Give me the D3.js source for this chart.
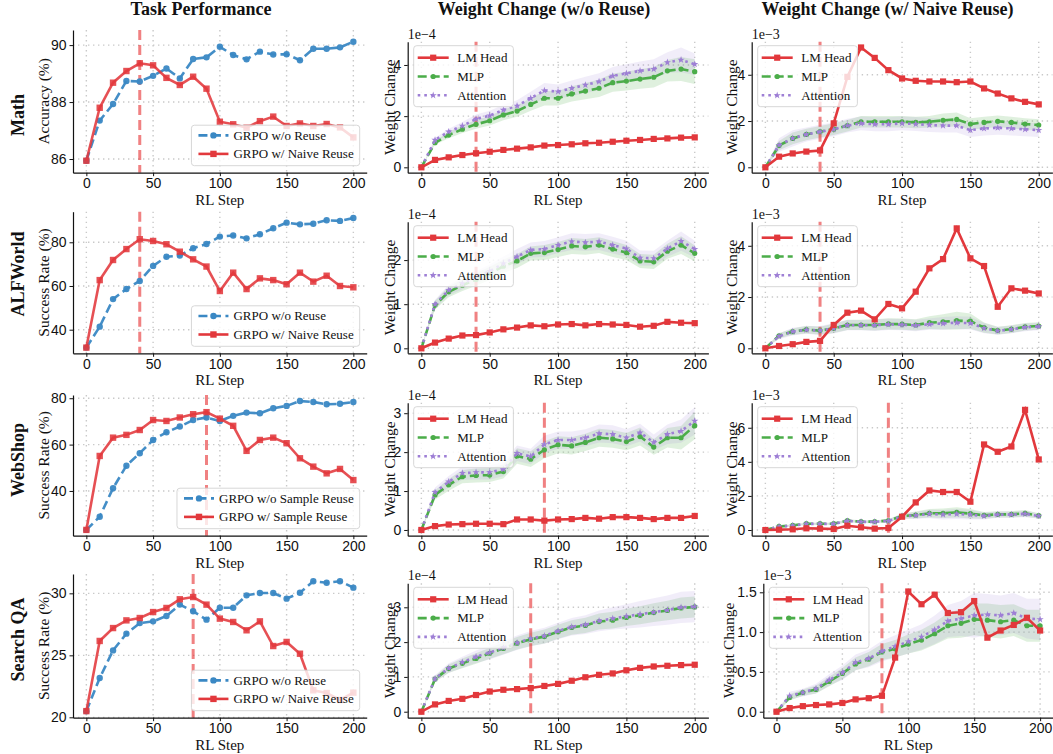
<!DOCTYPE html>
<html>
<head>
<meta charset="utf-8">
<script src="https://cdn.jsdelivr.net/npm/d3@7"></script>
<style>
  body { margin: 0; background: #fff; }
  svg { font-family: "Liberation Serif", "Times New Roman", serif; }
  .tick text { font-size: 14px; fill: #111; }
  .grid { stroke: #c9c9c9; stroke-width: 1.4; stroke-dasharray: 1.4,3.6; }
</style>
</head>
<body>
<svg id="chart" width="1053" height="754"></svg>
<script>
// ---- data ----
const steps = [0, 10, 20, 30, 40, 50, 60, 70, 80, 90, 100, 110, 120, 130, 140, 150, 160, 170, 180, 190, 200];
const xTicks = [0, 50, 100, 150, 200];

const colTitles = ['Task Performance', 'Weight Change (w/o Reuse)', 'Weight Change (w/ Naive Reuse)'];
const rowNames = ['Math', 'ALFWorld', 'WebShop', 'Search QA'];
const perfLabels = ['Accuracy (%)', 'Success Rate (%)', 'Success Rate (%)', 'Success Rate (%)'];
const baseNames = ['GRPO w/o Reuse', 'GRPO w/o Reuse', 'GRPO w/o Sample Reuse', 'GRPO w/o Reuse'];
const reuseNames = ['GRPO w/ Naive Reuse', 'GRPO w/ Naive Reuse', 'GRPO w/ Sample Reuse', 'GRPO w/ Naive Reuse'];
const reuseStart = [40, 40, 90, 80];

// task performance
const mathWithout = [85.94, 87.35, 87.93, 88.74, 88.72, 88.92, 89.18, 88.83, 89.51, 89.57, 89.94, 89.65, 89.50, 89.77, 89.67, 89.68, 89.47, 89.87, 89.87, 89.92, 90.12];
const mathNaive = [85.94, 87.80, 88.68, 89.09, 89.36, 89.29, 88.85, 88.60, 88.89, 88.47, 87.31, 87.22, 87.10, 87.33, 87.49, 87.16, 87.25, 87.16, 87.23, 87.11, 86.76];
const alfWithout = [31.8, 41.4, 54.0, 58.6, 62.3, 69.2, 73.4, 73.9, 77.3, 79.2, 82.6, 83.1, 81.8, 83.7, 86.4, 89.0, 88.2, 88.5, 90.1, 89.8, 91.1];
const alfNaive = [31.8, 62.7, 71.9, 76.9, 81.4, 80.6, 79.1, 75.7, 72.2, 68.9, 57.7, 66.1, 58.6, 63.5, 62.7, 60.8, 66.1, 62.0, 64.7, 60.0, 59.4];
const webWithout = [23.2, 28.9, 41.2, 50.9, 56.3, 62.0, 65.3, 67.8, 70.6, 71.7, 70.2, 72.4, 73.8, 73.5, 75.7, 76.7, 78.8, 78.4, 77.4, 77.6, 78.4];
const webSample = [23.2, 55.1, 63.0, 64.2, 66.3, 70.6, 70.2, 71.7, 73.1, 74.0, 71.2, 68.1, 57.3, 62.0, 63.0, 60.6, 54.1, 50.5, 47.6, 49.5, 44.7];
const searchWithout = [20.5, 23.17, 25.40, 26.75, 27.6, 27.74, 28.17, 29.09, 28.55, 27.88, 28.84, 28.84, 29.84, 30.03, 30.03, 29.57, 30.05, 30.97, 30.86, 30.97, 30.46];
const searchNaive = [20.5, 26.16, 27.2, 27.82, 28.01, 28.49, 28.82, 29.52, 29.70, 29.09, 27.96, 27.69, 27.02, 27.74, 25.75, 26.08, 25.13, 22.18, 21.96, 21.4, 21.99];

// weight change, w/o reuse (x1e-4)
const mathPlainLm = [0, 0.29, 0.39, 0.48, 0.55, 0.61, 0.68, 0.73, 0.78, 0.85, 0.87, 0.90, 0.94, 0.96, 1.00, 1.04, 1.07, 1.11, 1.13, 1.16, 1.17];
const mathPlainMlp = [0, 0.96, 1.26, 1.49, 1.68, 1.82, 2.05, 2.20, 2.46, 2.70, 2.70, 2.87, 2.98, 3.09, 3.31, 3.37, 3.45, 3.52, 3.77, 3.84, 3.74];
const mathPlainAttn = [0, 1.07, 1.39, 1.62, 1.89, 2.02, 2.24, 2.40, 2.70, 3.00, 2.96, 3.09, 3.22, 3.35, 3.57, 3.67, 3.77, 3.84, 4.10, 4.20, 4.03];
const mathPlainMlpStd = [0, 0.08, 0.12, 0.15, 0.17, 0.19, 0.21, 0.22, 0.25, 0.28, 0.28, 0.30, 0.32, 0.34, 0.36, 0.37, 0.38, 0.40, 0.42, 0.47, 0.48];
const mathPlainAttnStd = [0, 0.08, 0.12, 0.15, 0.17, 0.19, 0.21, 0.22, 0.25, 0.30, 0.28, 0.30, 0.32, 0.33, 0.35, 0.36, 0.37, 0.38, 0.40, 0.48, 0.42];

const alfPlainLm = [0, 0.13, 0.22, 0.29, 0.30, 0.36, 0.43, 0.47, 0.52, 0.50, 0.54, 0.55, 0.52, 0.55, 0.54, 0.53, 0.49, 0.51, 0.60, 0.58, 0.57];
const alfPlainMlp = [0, 0.98, 1.28, 1.43, 1.56, 1.70, 1.86, 1.98, 2.15, 2.17, 2.24, 2.32, 2.30, 2.34, 2.25, 2.17, 1.98, 1.96, 2.20, 2.34, 2.15];
const alfPlainAttn = [0, 1.00, 1.32, 1.47, 1.61, 1.75, 1.92, 2.08, 2.23, 2.25, 2.34, 2.42, 2.40, 2.42, 2.34, 2.26, 2.05, 2.04, 2.26, 2.43, 2.25];
const alfPlainMlpStd = [0, 0.10, 0.12, 0.13, 0.14, 0.15, 0.15, 0.16, 0.16, 0.17, 0.17, 0.18, 0.18, 0.18, 0.18, 0.17, 0.16, 0.16, 0.17, 0.20, 0.18];
const alfPlainAttnStd = [0, 0.10, 0.12, 0.13, 0.14, 0.15, 0.16, 0.17, 0.17, 0.18, 0.18, 0.19, 0.19, 0.19, 0.19, 0.18, 0.17, 0.17, 0.18, 0.22, 0.19];

const webPlainLm = [0, 0.10, 0.14, 0.15, 0.16, 0.16, 0.15, 0.27, 0.27, 0.24, 0.27, 0.28, 0.31, 0.29, 0.33, 0.33, 0.31, 0.28, 0.31, 0.31, 0.36];
const webPlainMlp = [0, 0.90, 1.16, 1.37, 1.40, 1.41, 1.50, 1.90, 1.82, 2.06, 2.19, 2.16, 2.25, 2.37, 2.34, 2.27, 2.40, 2.13, 2.37, 2.37, 2.68];
const webPlainAttn = [0, 0.97, 1.24, 1.46, 1.48, 1.48, 1.56, 1.97, 1.89, 2.20, 2.31, 2.31, 2.37, 2.48, 2.46, 2.37, 2.50, 2.25, 2.46, 2.54, 2.80];
const webPlainMlpStd = [0, 0.12, 0.15, 0.17, 0.18, 0.18, 0.18, 0.20, 0.20, 0.22, 0.22, 0.22, 0.22, 0.23, 0.23, 0.22, 0.23, 0.20, 0.25, 0.30, 0.35];
const webPlainAttnStd = [0, 0.12, 0.15, 0.17, 0.18, 0.18, 0.18, 0.20, 0.20, 0.22, 0.22, 0.22, 0.22, 0.23, 0.23, 0.22, 0.23, 0.20, 0.25, 0.30, 0.35];

const searchPlainLm = [0, 0.21, 0.31, 0.37, 0.48, 0.58, 0.63, 0.65, 0.68, 0.74, 0.80, 0.89, 0.99, 1.06, 1.10, 1.19, 1.26, 1.30, 1.32, 1.34, 1.35];
const searchPlainMlp = [0, 0.94, 1.24, 1.39, 1.53, 1.68, 1.82, 1.97, 2.08, 2.16, 2.30, 2.42, 2.48, 2.59, 2.63, 2.71, 2.77, 2.85, 2.91, 2.98, 3.01];
const searchPlainAttn = [0, 0.95, 1.25, 1.42, 1.58, 1.70, 1.84, 1.98, 2.10, 2.18, 2.32, 2.44, 2.50, 2.61, 2.68, 2.74, 2.80, 2.86, 2.92, 3.00, 3.02];
const searchPlainMlpStd = [0, 0.08, 0.12, 0.14, 0.15, 0.16, 0.17, 0.18, 0.19, 0.20, 0.20, 0.21, 0.22, 0.23, 0.24, 0.25, 0.26, 0.27, 0.28, 0.30, 0.30];
const searchPlainAttnStd = [0, 0.10, 0.14, 0.16, 0.18, 0.20, 0.20, 0.21, 0.22, 0.23, 0.24, 0.25, 0.27, 0.30, 0.32, 0.35, 0.38, 0.40, 0.42, 0.45, 0.45];

// weight change, w/ naive reuse (x1e-3)
const mathReuseLm = [0, 0.46, 0.60, 0.68, 0.73, 1.90, 3.91, 5.18, 4.73, 4.20, 3.84, 3.74, 3.71, 3.71, 3.68, 3.71, 3.41, 3.19, 2.98, 2.83, 2.72];
const mathReuseMlp = [0, 0.94, 1.25, 1.42, 1.54, 1.65, 1.80, 1.97, 1.97, 1.97, 1.97, 1.94, 1.97, 2.03, 2.07, 1.87, 1.94, 1.99, 1.94, 1.87, 1.83];
const mathReuseAttn = [0, 0.96, 1.25, 1.42, 1.54, 1.64, 1.80, 1.90, 1.86, 1.86, 1.90, 1.87, 1.83, 1.80, 1.80, 1.61, 1.68, 1.71, 1.68, 1.64, 1.61];
const mathReuseMlpStd = [0, 0.20, 0.25, 0.25, 0.25, 0.25, 0.25, 0.25, 0.25, 0.25, 0.25, 0.25, 0.25, 0.30, 0.30, 0.25, 0.25, 0.25, 0.25, 0.25, 0.25];
const mathReuseAttnStd = [0, 0.30, 0.35, 0.30, 0.30, 0.30, 0.30, 0.30, 0.30, 0.30, 0.30, 0.30, 0.30, 0.30, 0.30, 0.30, 0.30, 0.30, 0.30, 0.30, 0.30];

const alfReuseLm = [0, 0.09, 0.16, 0.25, 0.29, 0.91, 1.39, 1.47, 1.13, 1.73, 1.56, 2.21, 3.12, 3.48, 4.68, 3.51, 3.21, 1.62, 2.34, 2.25, 2.14];
const alfReuseMlp = [0, 0.49, 0.65, 0.73, 0.69, 0.78, 0.91, 0.91, 0.91, 0.95, 0.94, 0.91, 1.00, 1.03, 1.08, 1.06, 0.81, 0.69, 0.75, 0.84, 0.87];
const alfReuseAttn = [0, 0.47, 0.65, 0.72, 0.69, 0.78, 0.90, 0.90, 0.90, 0.93, 0.92, 0.89, 0.94, 0.97, 1.00, 0.98, 0.79, 0.68, 0.74, 0.82, 0.85];
const alfReuseMlpStd = [0, 0.10, 0.12, 0.15, 0.15, 0.18, 0.20, 0.20, 0.22, 0.22, 0.22, 0.22, 0.25, 0.30, 0.35, 0.30, 0.20, 0.15, 0.15, 0.15, 0.15];
const alfReuseAttnStd = [0, 0.12, 0.15, 0.15, 0.18, 0.20, 0.20, 0.20, 0.22, 0.22, 0.22, 0.22, 0.22, 0.25, 0.25, 0.25, 0.20, 0.15, 0.15, 0.15, 0.15];

const webReuseLm = [0, 0.02, 0.04, 0.10, 0.08, 0.06, 0.25, 0.16, 0.08, 0.12, 0.78, 1.62, 2.32, 2.23, 2.23, 1.66, 5.02, 4.59, 4.90, 7.05, 4.14];
const webReuseMlp = [0, 0.21, 0.27, 0.37, 0.37, 0.37, 0.55, 0.49, 0.49, 0.55, 0.82, 0.88, 0.98, 0.98, 1.04, 0.96, 0.86, 0.92, 0.92, 0.98, 0.84];
const webReuseAttn = [0, 0.20, 0.26, 0.36, 0.36, 0.36, 0.53, 0.48, 0.48, 0.53, 0.80, 0.86, 0.94, 0.90, 0.94, 0.90, 0.82, 0.90, 0.90, 0.95, 0.82];
const webReuseMlpStd = [0, 0.05, 0.05, 0.06, 0.06, 0.06, 0.08, 0.08, 0.08, 0.08, 0.15, 0.20, 0.25, 0.28, 0.30, 0.28, 0.20, 0.18, 0.18, 0.20, 0.15];
const webReuseAttnStd = [0, 0.05, 0.05, 0.06, 0.06, 0.06, 0.08, 0.08, 0.08, 0.08, 0.15, 0.20, 0.25, 0.28, 0.30, 0.28, 0.20, 0.18, 0.18, 0.20, 0.15];

const searchReuseLm = [0, 0.046, 0.07, 0.084, 0.092, 0.11, 0.155, 0.17, 0.20, 0.68, 1.51, 1.35, 1.47, 1.24, 1.25, 1.39, 0.93, 1.02, 1.09, 1.18, 1.02];
const searchReuseMlp = [0, 0.18, 0.24, 0.28, 0.38, 0.48, 0.60, 0.66, 0.75, 0.79, 0.85, 0.90, 0.98, 1.08, 1.11, 1.16, 1.15, 1.13, 1.15, 1.08, 1.08];
const searchReuseAttn = [0, 0.20, 0.24, 0.29, 0.40, 0.49, 0.62, 0.67, 0.76, 0.82, 0.88, 0.94, 1.03, 1.14, 1.17, 1.21, 1.22, 1.21, 1.24, 1.17, 1.16];
const searchReuseMlpStd = [0, 0.04, 0.04, 0.05, 0.06, 0.07, 0.08, 0.09, 0.10, 0.11, 0.12, 0.13, 0.14, 0.16, 0.18, 0.20, 0.21, 0.21, 0.20, 0.20, 0.20];
const searchReuseAttnStd = [0, 0.05, 0.05, 0.06, 0.07, 0.09, 0.10, 0.11, 0.13, 0.14, 0.15, 0.16, 0.18, 0.20, 0.22, 0.28, 0.26, 0.25, 0.25, 0.25, 0.26];

// y ticks per panel
const perfTicks = [[86, 88, 90], [40, 60, 80], [40, 60, 80], [20, 25, 30]];
const plainTicks = [[0, 2, 4], [0, 1, 2], [0, 1, 2, 3], [0, 1, 2, 3]];
const reuseTicks = [[0, 2, 4], [0, 2, 4], [0, 2, 4, 6], [0, 0.5, 1.0, 1.5]];

// ---- styles ----
const C = {
  blue: '#3a88c4', red: '#e2383c', green: '#4bad49', purple: '#9e7fd5',
  vline: '#e41a1c'
};

// ---- layout (pixels) ----
const rowBox = [
  { bottom: 172.7, top1: 30, top: 41.7 },
  { bottom: 353.3, top1: 211.7, top: 221.7 },
  { bottom: 535.7, top1: 395, top: 402.7 },
  { bottom: 717.7, top1: 574, top: 583.3 }
];
const perfDomains = [[85.52, 90.53], [29.2, 94.0], [20.7, 81.4], [19.97, 31.56]];
const plainDomains = [[-0.21, 4.91], [-0.113, 2.87], [-0.147, 3.27], [-0.172, 3.69]];
const reuseDomains = [[-0.233, 5.43], [-0.195, 4.94], [-0.334, 7.47], [-0.075, 1.613]];
const rowLabelY = [115, 274, 460, 639.5];

const svg = d3.select('#chart');

function markerPath(kind, size) {
  if (kind === 'square') return d3.symbol(d3.symbolSquare, size * size)();
  if (kind === 'circle') return d3.symbol(d3.symbolCircle, Math.PI * size * size / 4)();
  return d3.symbol(d3.symbolStar, size * size * 0.6)();
}

function drawSeries(g, x, y, s) {
  const line = d3.line().x((d, i) => x(steps[i])).y(d => y(d));
  g.append('path')
    .datum(s.values)
    .attr('d', line)
    .attr('fill', 'none')
    .attr('stroke', s.color)
    .attr('stroke-width', 2.6)
    .attr('stroke-opacity', s.opacity || 1)
    .attr('stroke-dasharray', s.dash || null);
  g.append('g').selectAll('path')
    .data(s.values)
    .join('path')
    .attr('transform', (d, i) => `translate(${x(steps[i])},${y(d)})`)
    .attr('d', markerPath(s.marker, s.msize))
    .attr('fill', s.color)
    .attr('fill-opacity', s.opacity || 1);
}

function drawLegend(g, items, opt) {
  const lg = g.append('g');
  const box = lg.append('rect')
    .attr('rx', 3)
    .attr('fill', '#fff').attr('fill-opacity', 0.8)
    .attr('stroke', '#d3d3d3').attr('stroke-width', 0.9);
  let maxW = 0;
  items.forEach((s, i) => {
    const cy = opt.first + i * opt.step;
    const hx = opt.padL;
    lg.append('line')
      .attr('x1', hx).attr('x2', hx + opt.hlen).attr('y1', cy).attr('y2', cy)
      .attr('stroke', s.color).attr('stroke-width', 2.6)
      .attr('stroke-dasharray', s.dash || null);
    lg.append('path')
      .attr('transform', `translate(${hx + opt.hlen / 2},${cy})`)
      .attr('d', markerPath(s.marker, s.msize))
      .attr('fill', s.color);
    const t = lg.append('text')
      .attr('x', hx + opt.hlen + opt.gap).attr('y', cy)
      .attr('dy', '0.33em')
      .style('font-size', '13px')
      .attr('fill', '#111')
      .text(s.label);
    maxW = Math.max(maxW, t.node().getComputedTextLength());
  });
  const w = opt.padL + opt.hlen + opt.gap + maxW + 6;
  box.attr('x', 0).attr('y', 0).attr('width', w).attr('height', opt.height);
  const lx = opt.anchor === 'lr' ? opt.right - 7 - w : opt.left + 6;
  const ly = opt.anchor === 'lr' ? opt.bottom - 7 - opt.height : opt.top + 4;
  lg.attr('transform', `translate(${lx},${ly})`);
}

function drawPanel(p) {
  const g = svg.append('g');
  const x = d3.scaleLinear().domain([-10, 210]).range([p.left, p.right]);
  const y = d3.scaleLinear().domain(p.yDomain).range([p.bottom, p.top]);

  // grid
  g.append('g').selectAll('line')
    .data(xTicks)
    .join('line')
    .attr('class', 'grid')
    .attr('x1', d => x(d)).attr('x2', d => x(d))
    .attr('y1', p.top).attr('y2', p.bottom);
  g.append('g').selectAll('line')
    .data(p.yTicks)
    .join('line')
    .attr('class', 'grid')
    .attr('x1', p.left).attr('x2', p.right)
    .attr('y1', d => y(d)).attr('y2', d => y(d));

  // bands
  (p.bands || []).forEach(b => {
    const area = d3.area()
      .x((d, i) => x(steps[i]))
      .y0((d, i) => y(d - b.std[i]))
      .y1((d, i) => y(d + b.std[i]));
    g.append('path')
      .datum(b.values)
      .attr('d', area)
      .attr('fill', b.color)
      .attr('fill-opacity', b.opacity);
  });

  // reuse start marker
  g.append('line')
    .attr('x1', x(p.vline)).attr('x2', x(p.vline))
    .attr('y1', p.top).attr('y2', p.bottom)
    .attr('stroke', C.vline).attr('stroke-opacity', 0.55)
    .attr('stroke-width', 3).attr('stroke-dasharray', '10,5');

  p.series.forEach(s => drawSeries(g, x, y, s));

  // axes
  const xAxis = d3.axisBottom(x).tickValues(xTicks).tickSize(3.5).tickSizeOuter(0).tickPadding(2);
  const yAxis = d3.axisLeft(y).tickValues(p.yTicks).tickSize(3.5).tickSizeOuter(0).tickPadding(3)
    .tickFormat(p.yFormat || d3.format('d'));
  g.append('g').attr('transform', `translate(0,${p.bottom})`).call(xAxis)
    .call(a => a.select('.domain').attr('stroke', '#111').attr('stroke-width', 1.2))
    .call(a => a.selectAll('.tick line').attr('stroke', '#111'));
  g.append('g').attr('transform', `translate(${p.left},0)`).call(yAxis)
    .call(a => a.select('.domain').attr('stroke', '#111').attr('stroke-width', 1.2))
    .call(a => a.selectAll('.tick line').attr('stroke', '#111'));
  g.selectAll('.tick text').attr('font-family', null).attr('font-size', null);

  // labels
  g.append('text')
    .attr('x', (p.left + p.right) / 2).attr('y', p.bottom + 32)
    .attr('text-anchor', 'middle')
    .style('font-size', '15px').attr('fill', '#111')
    .text('RL Step');
  g.append('text')
    .attr('transform', `translate(${p.ylabelX},${(p.top + p.bottom) / 2}) rotate(-90)`)
    .attr('text-anchor', 'middle').attr('dy', '0.35em')
    .style('font-size', '15.5px').attr('fill', '#111')
    .text(p.ylabel);
  if (p.offset) {
    g.append('text')
      .attr('x', p.left).attr('y', p.top - 3)
      .style('font-size', '14px').attr('fill', '#111')
      .text(p.offset);
  }

  drawLegend(g, p.legend, Object.assign({}, p.legendOpt, {
    left: p.left, right: p.right, top: p.top, bottom: p.bottom
  }));
}

// ---- build panels ----
const perfSets = [
  [mathWithout, mathNaive], [alfWithout, alfNaive],
  [webWithout, webSample], [searchWithout, searchNaive]
];
const plainSets = [
  [mathPlainLm, mathPlainMlp, mathPlainAttn, mathPlainMlpStd, mathPlainAttnStd],
  [alfPlainLm, alfPlainMlp, alfPlainAttn, alfPlainMlpStd, alfPlainAttnStd],
  [webPlainLm, webPlainMlp, webPlainAttn, webPlainMlpStd, webPlainAttnStd],
  [searchPlainLm, searchPlainMlp, searchPlainAttn, searchPlainMlpStd, searchPlainAttnStd]
];
const reuseSets = [
  [mathReuseLm, mathReuseMlp, mathReuseAttn, mathReuseMlpStd, mathReuseAttnStd],
  [alfReuseLm, alfReuseMlp, alfReuseAttn, alfReuseMlpStd, alfReuseAttnStd],
  [webReuseLm, webReuseMlp, webReuseAttn, webReuseMlpStd, webReuseAttnStd],
  [searchReuseLm, searchReuseMlp, searchReuseAttn, searchReuseMlpStd, searchReuseAttnStd]
];

function weightPanel(set, r, col) {
  const [lm, mlp, attn, mlpStd, attnStd] = set;
  const lmS = { values: lm, color: C.red, marker: 'square', msize: 6.2, label: 'LM Head' };
  const mlpS = { values: mlp, color: C.green, marker: 'circle', msize: 5.2, dash: '9,4', label: 'MLP' };
  const attnS = { values: attn, color: C.purple, marker: 'star', msize: 5.2, dash: '2.6,4', label: 'Attention' };
  const last = col === 2 && r === 3;
  return {
    left: col === 1 ? 407.7 : (last ? 763.3 : 751.7),
    right: col === 1 ? 708.4 : (last ? 1053.3 : 1052.4),
    top: rowBox[r].top, bottom: rowBox[r].bottom,
    yDomain: col === 1 ? plainDomains[r] : reuseDomains[r],
    yTicks: col === 1 ? plainTicks[r] : reuseTicks[r],
    yFormat: last ? d3.format('.1f') : d3.format('d'),
    offset: col === 1 ? '1e\u22124' : '1e\u22123',
    ylabel: 'Weight Change',
    ylabelX: col === 1 ? 390 : (last ? 729 : 732),
    vline: reuseStart[r],
    bands: [
      { values: mlp, std: mlpStd, color: C.green, opacity: 0.18 },
      { values: attn, std: attnStd, color: C.purple, opacity: 0.14 }
    ],
    series: [mlpS, attnS, lmS],
    legend: [lmS, mlpS, attnS],
    legendOpt: { anchor: 'ul', padL: 4, hlen: 31, gap: 8.5, first: 12, step: 18.8, height: 61 }
  };
}

for (let r = 0; r < 4; r++) {
  const base = { values: perfSets[r][0], color: C.blue, marker: 'circle', msize: 6.4, dash: '9,4.5', opacity: 0.95, label: baseNames[r] };
  const reuse = { values: perfSets[r][1], color: C.red, marker: 'square', msize: 6.4, opacity: 0.88, label: reuseNames[r] };
  drawPanel({
    left: 73, right: 366.7,
    top: rowBox[r].top1, bottom: rowBox[r].bottom,
    yDomain: perfDomains[r], yTicks: perfTicks[r],
    ylabel: perfLabels[r], ylabelX: 43.5,
    vline: reuseStart[r],
    series: [base, reuse],
    legend: [base, reuse],
    legendOpt: { anchor: 'lr', padL: 7, hlen: 30, gap: 5, first: 10.2, step: 18.5, height: 40.5 }
  });
  drawPanel(weightPanel(plainSets[r], r, 1));
  drawPanel(weightPanel(reuseSets[r], r, 2));

  svg.append('text')
    .attr('transform', `translate(18,${rowLabelY[r]}) rotate(-90)`)
    .attr('text-anchor', 'middle').attr('dy', '0.35em')
    .style('font-size', '18px').style('font-weight', 'bold').attr('fill', '#111')
    .text(rowNames[r]);
}

const titleX = [201, 544, 887.5];
colTitles.forEach((t, i) => {
  svg.append('text')
    .attr('x', titleX[i]).attr('y', 15)
    .attr('text-anchor', 'middle')
    .style('font-size', '18px').style('font-weight', 'bold').attr('fill', '#111')
    .text(t);
});
</script>
</body>
</html>
